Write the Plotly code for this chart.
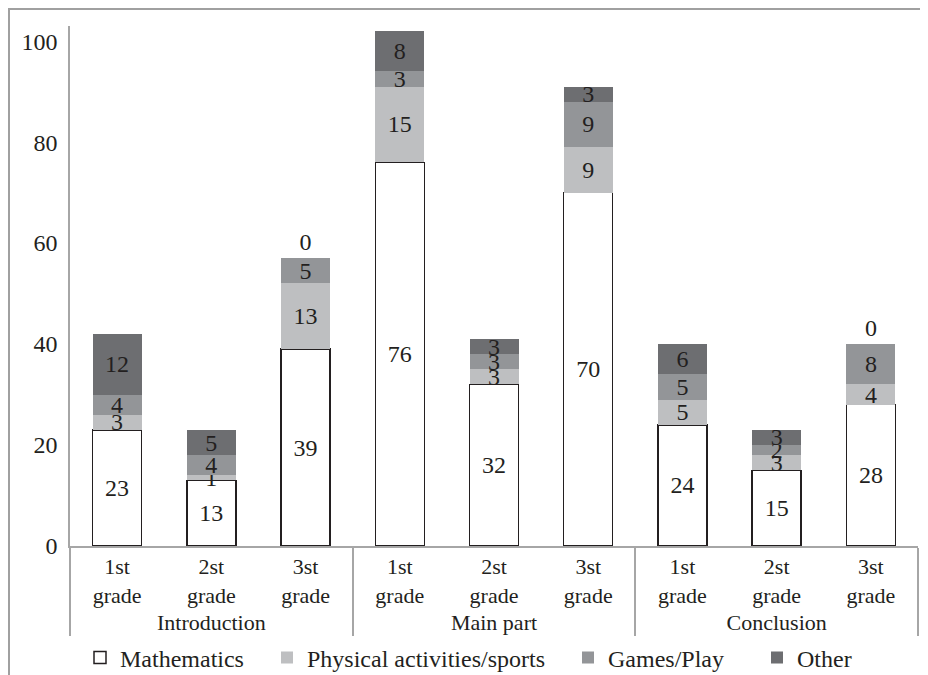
import plotly.graph_objects as go

sections = ["Introduction", "Main part", "Conclusion"]
grades = ["1st grade", "2st grade", "3st grade"]

series_names = ["Mathematics", "Physical activities/sports", "Games/Play", "Other"]
# values in order: Intro(1st,2st,3st), Main(1st,2st,3st), Conclusion(1st,2st,3st)
mathematics = [23, 13, 39, 76, 32, 70, 24, 15, 28]
physical = [3, 1, 13, 15, 3, 9, 5, 3, 4]
games = [4, 4, 5, 3, 3, 9, 5, 2, 8]
other = [12, 5, 0, 8, 3, 3, 6, 3, 0]

y_ticks = [0, 20, 40, 60, 80, 100]

FONT = "Liberation Serif, Times New Roman, serif"
TXT = "#231F20"
FS = 24

xcats = [[s for s in sections for _ in grades],
         [g.replace(" ", "<br>") for _ in sections for g in grades]]

fills = ["#FFFFFF", "#BEBFC1", "#939598", "#6D6E71"]
lines = [dict(color="#231F20", width=1.5), dict(width=0), dict(width=0), dict(width=0)]
legend_ids = ["legend", "legend2", "legend3", "legend4"]
legend_text_x = [120, 307, 608, 797]  # left edge of each legend entry's text (window px)

fig = go.Figure()
all_series = [mathematics, physical, games, other]
for i, (name, vals, fc, ln) in enumerate(zip(series_names, all_series, fills, lines)):
    top = i == len(all_series) - 1
    fig.add_trace(go.Bar(
        name=name, x=xcats, y=vals,
        marker=dict(color=fc, line=ln),
        text=[str(v) for v in vals],
        textposition=[("outside" if (top and v == 0) else "inside") for v in vals],
        insidetextanchor="middle", textangle=0,
        insidetextfont=dict(family=FONT, size=FS, color=TXT),
        outsidetextfont=dict(family=FONT, size=FS, color=TXT),
        cliponaxis=False,
        legend=legend_ids[i],
    ))

# the page places the figure 8px right/down from the window corner
OFF = 8
W, H = 928, 675
L, R, T, B = 70 - OFF, 10 + OFF, 26 - OFF, 129 + OFF
pw, ph = W - L - R, H - T - B

def px(x):
    return (x - OFF - L) / pw

def py(y):
    return (H - B - (y - OFF)) / ph

legends = {}
for lid, tx in zip(legend_ids, legend_text_x):
    legends[lid] = dict(orientation="h", xref="container", yref="container",
                        x=(tx - 40 - OFF) / W, xanchor="left",
                        y=1 - (658 - OFF) / H, yanchor="middle",
                        font=dict(family=FONT, size=FS, color=TXT),
                        bgcolor="rgba(0,0,0,0)")

fig.update_layout(
    width=W, height=H,
    margin=dict(l=L, r=R, t=T, b=B, autoexpand=False),
    barmode="stack", bargap=0.48,
    plot_bgcolor="white", paper_bgcolor="white",
    font=dict(family=FONT, size=FS, color=TXT),
    uniformtext=dict(minsize=FS, mode="show"),
    showlegend=True,
    xaxis=dict(type="multicategory", showline=True, linecolor="#A6A6A6", linewidth=1.5,
               showdividers=True, dividercolor="#A6A6A6", dividerwidth=1.5,
               ticks="", tickfont=dict(family=FONT, size=22, color=TXT), showgrid=False,
               automargin=False),
    yaxis=dict(range=[0, 103], tickvals=y_ticks, showgrid=False, zeroline=False,
               showline=True, linecolor="#A6A6A6", linewidth=1.5,
               ticks="outside", ticklen=6, tickcolor="rgba(0,0,0,0)",
               tickfont=dict(family=FONT, size=FS, color=TXT), automargin=False),
    shapes=[dict(type="rect", xref="paper", yref="paper",
                 x0=px(9), x1=px(960), y0=py(9), y1=py(720),
                 line=dict(color="#A0A0A0", width=2), fillcolor="rgba(0,0,0,0)", layer="below")],
    **legends,
)

fig.write_html("out.html")
